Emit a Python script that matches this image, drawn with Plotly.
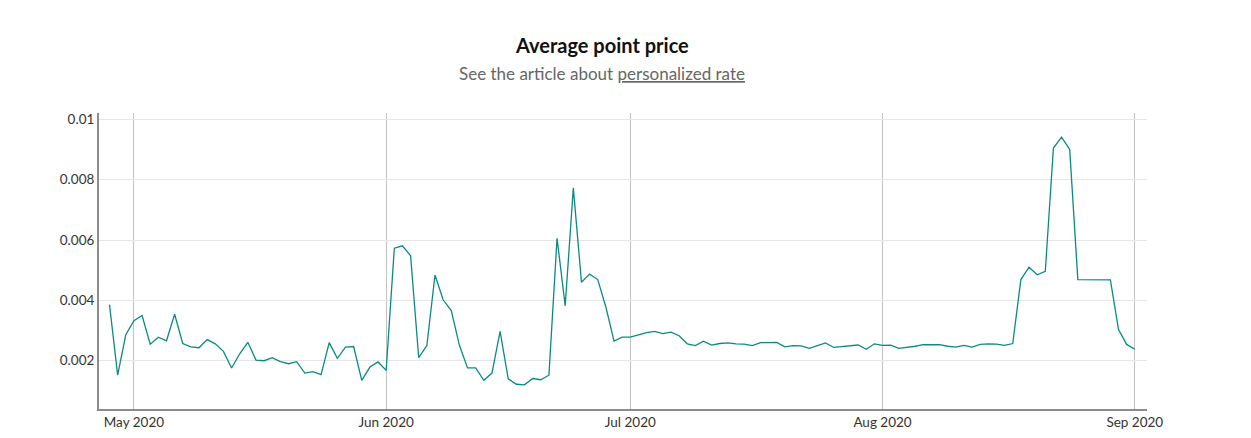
import pandas as pd
import plotly.graph_objects as go

# daily average point price, 28 Apr 2020 .. 1 Sep 2020
apr = [0.00386, 0.00152, 0.00286]
may = [0.00333, 0.00350, 0.00255, 0.00278, 0.00266, 0.00354, 0.00257, 0.00246,
       0.00243, 0.00270, 0.00256, 0.00231, 0.00176, 0.00223, 0.00261, 0.00202,
       0.00200, 0.00210, 0.00197, 0.00190, 0.00197, 0.00159, 0.00164, 0.00154,
       0.00260, 0.00208, 0.00245, 0.00247, 0.00135, 0.00179, 0.00196]
jun = [0.00168, 0.00573, 0.00581, 0.00548, 0.00210, 0.00250, 0.00484, 0.00402,
       0.00366, 0.00251, 0.00176, 0.00176, 0.00135, 0.00159, 0.00297, 0.00140,
       0.00122, 0.00120, 0.00141, 0.00137, 0.00152, 0.00606, 0.00382, 0.00773,
       0.00460, 0.00487, 0.00469, 0.00378, 0.00265, 0.00278]
jul = [0.00278, 0.00285, 0.00293, 0.00297, 0.00290, 0.00295, 0.00283, 0.00256,
       0.00250, 0.00265, 0.00252, 0.00257, 0.00259, 0.00256, 0.00255, 0.00250,
       0.00260, 0.00260, 0.00261, 0.00246, 0.00250, 0.00249, 0.00241, 0.00250,
       0.00259, 0.00244, 0.00246, 0.00249, 0.00252, 0.00238, 0.00256]
aug = [0.00251, 0.00252, 0.00241, 0.00244, 0.00248, 0.00253, 0.00253, 0.00253,
       0.00248, 0.00245, 0.00251, 0.00245, 0.00254, 0.00256, 0.00255, 0.00251,
       0.00257, 0.00469, 0.00510, 0.00485, 0.00496, 0.00905, 0.00941, 0.00900,
       0.00469, 0.00469, 0.00469, 0.00468, 0.00468, 0.00303, 0.00254]
sep = [0.00238]

prices = apr + may + jun + jul + aug + sep
dates = pd.date_range("2020-04-28", "2020-09-01", freq="D")
assert len(dates) == len(prices)

y_ticks = [0.002, 0.004, 0.006, 0.008, 0.01]

fig = go.Figure()
fig.add_trace(go.Scatter(
    x=dates, y=prices, mode="lines",
    line=dict(color="#0b8a84", width=1.3),
    hoverinfo="x+y", showlegend=False,
))

# title + subtitle (page body adds an offset, so the figure is a bit smaller)
fig.add_annotation(
    text="Average point price", xref="paper", yref="paper",
    x=0.48, y=1.23, xanchor="center", yanchor="middle", showarrow=False,
    font=dict(family="Lato", size=20, color="#111", weight="bold"),
)
fig.add_annotation(
    text="See the article about <u>personalized rate</u>", xref="paper", yref="paper",
    x=0.48, y=1.135, xanchor="center", yanchor="middle", showarrow=False,
    font=dict(family="Lato", size=17, color="#666"),
)

fig.update_layout(
    width=1243, height=434,
    margin=dict(l=91, r=104, t=105, b=29),
    paper_bgcolor="white", plot_bgcolor="white",
    font=dict(family="Lato", size=13.5, color="#333"),
    xaxis=dict(
        range=["2020-04-26 17:00", "2020-09-02 12:00"],
        dtick="M1", tick0="2020-05-01", tickformat="%b %Y",
        showgrid=True, gridcolor="#c2c2c2", gridwidth=1,
        showline=True, linecolor="#8c8c8c", linewidth=2,
        zeroline=False, ticks="",
    ),
    yaxis=dict(
        range=[0.0004, 0.01021],
        tickvals=y_ticks,
        showgrid=True, gridcolor="#e6e6e6", gridwidth=1,
        showline=True, linecolor="#8c8c8c", linewidth=2,
        zeroline=False, ticks="",
    ),
)

fig.write_html("out.html")
